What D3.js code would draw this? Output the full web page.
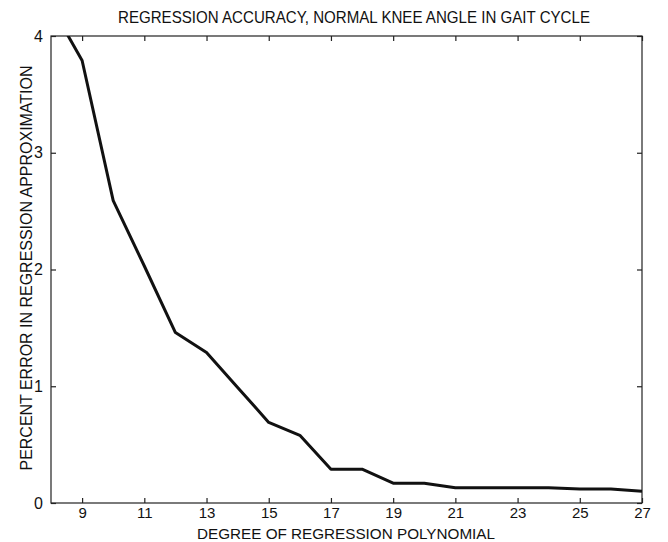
<!DOCTYPE html>
<html><head><meta charset="utf-8">
<script src="https://cdn.jsdelivr.net/npm/d3@7"></script>
<style>body{margin:0;background:#fff}svg{display:block}text{font-family:"Liberation Sans",Arial,sans-serif;fill:#111}</style>
</head><body><svg id="c" width="668" height="542"></svg>
<script>
const degrees = [8, 9, 10, 11, 12, 13, 14, 15, 16, 17, 18, 19, 20, 21, 22, 23, 24, 25, 26, 27];
const percentError = [4.26, 3.79, 2.59, 2.03, 1.46, 1.29, 0.99, 0.69, 0.58, 0.29, 0.29, 0.17, 0.17, 0.13, 0.13, 0.13, 0.13, 0.12, 0.12, 0.10];
const xTicks = [9, 11, 13, 15, 17, 19, 21, 23, 25, 27];
const yTicks = [0, 1, 2, 3, 4];
const title = "REGRESSION ACCURACY, NORMAL KNEE ANGLE IN GAIT CYCLE";
const xLabel = "DEGREE OF REGRESSION POLYNOMIAL";
const yLabel = "PERCENT ERROR IN REGRESSION APPROXIMATION";

const svg = d3.select("#c");
const L = 51, R = 642, T = 36, B = 503;
const x = d3.scaleLinear().domain([8, 27]).range([L, R]);
const y = d3.scaleLinear().domain([0, 4]).range([B, T]);

svg.append("defs").append("clipPath").attr("id", "clip")
  .append("rect").attr("x", L).attr("y", T).attr("width", R - L).attr("height", B - T);

svg.append("rect").attr("x", L).attr("y", T).attr("width", R - L).attr("height", B - T)
  .attr("fill", "none").attr("stroke", "#222").attr("stroke-width", 1.2);

const tl = 5;
const gxb = svg.append("g").attr("transform", `translate(0,${B})`)
  .call(d3.axisBottom(x).tickValues(xTicks).tickSizeInner(-tl).tickSizeOuter(0).tickPadding(4).tickFormat(d3.format("d")));
const gxt = svg.append("g").attr("transform", `translate(0,${T})`)
  .call(d3.axisTop(x).tickValues(xTicks).tickSizeInner(-tl).tickSizeOuter(0).tickFormat(""));
const gyl = svg.append("g").attr("transform", `translate(${L},0)`)
  .call(d3.axisLeft(y).tickValues(yTicks).tickSizeInner(-tl).tickSizeOuter(0).tickPadding(8).tickFormat(d3.format("d")));
const gyr = svg.append("g").attr("transform", `translate(${R},0)`)
  .call(d3.axisRight(y).tickValues(yTicks).tickSizeInner(-tl).tickSizeOuter(0).tickFormat(""));
[gxb, gxt, gyl, gyr].forEach(g => {
  g.select(".domain").remove();
  g.selectAll("line").attr("stroke", "#222").attr("stroke-width", 1.2);
  g.selectAll("text").attr("font-size", 16).attr("fill", "#111").attr("font-family", "'Liberation Sans',Arial,sans-serif");
});
gxb.selectAll("text").attr("font-size", 15);

svg.append("path").datum(degrees.map((d, i) => [d, percentError[i]]))
  .attr("clip-path", "url(#clip)")
  .attr("fill", "none").attr("stroke", "#111").attr("stroke-width", 3).attr("stroke-linejoin", "round")
  .attr("d", d3.line().x(d => x(d[0])).y(d => y(d[1])));

svg.append("text").attr("x", 354).attr("y", 23).attr("text-anchor", "middle")
  .attr("font-size", 17).attr("textLength", 472).attr("lengthAdjust", "spacingAndGlyphs").text(title);
svg.append("text").attr("x", 346).attr("y", 538.5).attr("text-anchor", "middle")
  .attr("font-size", 15).attr("textLength", 298).attr("lengthAdjust", "spacingAndGlyphs").text(xLabel);
svg.append("text").attr("transform", "translate(32,268) rotate(-90)").attr("text-anchor", "middle")
  .attr("font-size", 17).attr("textLength", 405).attr("lengthAdjust", "spacingAndGlyphs").text(yLabel);
</script></body></html>
